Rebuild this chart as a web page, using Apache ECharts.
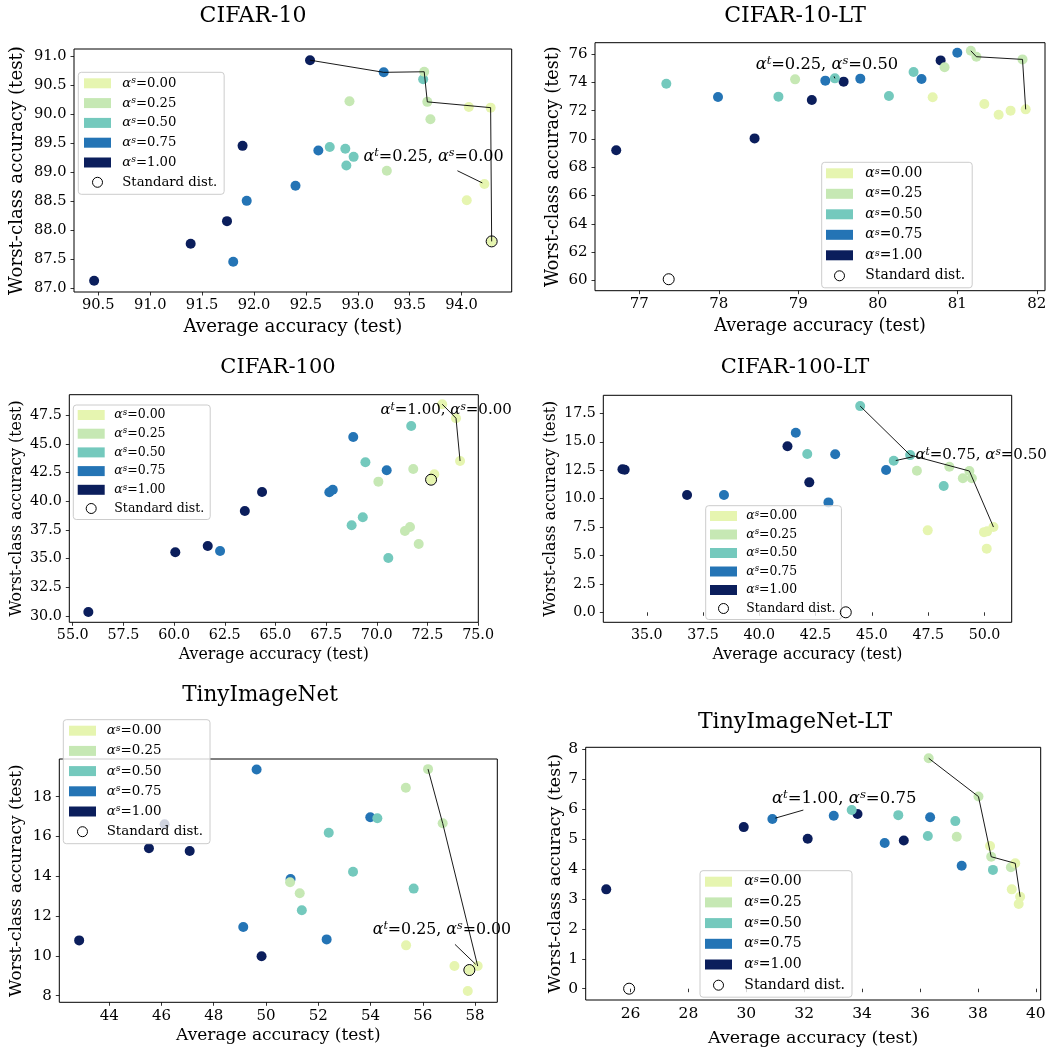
<!DOCTYPE html>
<html>
<head>
<meta charset="utf-8">
<script src="https://cdn.jsdelivr.net/npm/echarts@6/dist/echarts.min.js"></script>
<style>
  html, body { margin: 0; padding: 0; background: #fff; }
  #chart { width: 1051px; height: 1050px; }
</style>
</head>
<body>
<div id="chart"></div>
<script>
// ---------------------------------------------------------------------------
// Data: average vs worst-class test accuracy, grouped by alpha_s
// (each group lists its runs as [average, worst-class]).
// ---------------------------------------------------------------------------
const alphaS = ['0.00', '0.25', '0.50', '0.75', '1.00'];
const groupColors = ['#e6f5b0', '#c6e8b4', '#74c9bd', '#2474b5', '#0b1e5c'];

const cifar10Points = [
  [[94.07, 90.13], [94.28, 90.12], [94.22, 88.80], [94.05, 88.52], [94.29, 87.81]],
  [[93.64, 90.74], [92.92, 90.23], [93.67, 90.22], [93.70, 89.92], [93.28, 89.03]],
  [[93.63, 90.61], [92.73, 89.44], [92.88, 89.41], [92.96, 89.27], [92.89, 89.12]],
  [[93.25, 90.73], [92.62, 89.38], [92.40, 88.77], [91.93, 88.51], [91.80, 87.46]],
  [[92.54, 90.94], [91.89, 89.46], [91.74, 88.16], [91.39, 87.77], [90.46, 87.13]]
];
const cifar10Standard = [94.29, 87.81];
const cifar10Front = [[92.54, 90.94], [93.25, 90.73], [93.64, 90.74], [93.67, 90.22], [94.28, 90.12], [94.29, 87.81]];
const cifar10Note = ['0.25', '0.00'];
const cifar10XTicks = [90.5, 91.0, 91.5, 92.0, 92.5, 93.0, 93.5, 94.0];
const cifar10YTicks = [87.0, 87.5, 88.0, 88.5, 89.0, 89.5, 90.0, 90.5, 91.0];

const cifar10ltPoints = [
  [[81.86, 72.09], [81.34, 72.47], [81.52, 71.71], [81.67, 72.00], [80.69, 72.94]],
  [[81.17, 76.23], [81.24, 75.81], [81.82, 75.62], [78.96, 74.21], [80.84, 75.06]],
  [[77.34, 73.90], [78.75, 72.99], [79.46, 74.28], [80.14, 73.03], [80.45, 74.73]],
  [[81.00, 76.09], [80.55, 74.23], [79.78, 74.26], [79.34, 74.12], [77.99, 72.96]],
  [[80.79, 75.55], [79.57, 74.05], [79.17, 72.75], [78.45, 70.04], [76.71, 69.20]]
];
const cifar10ltStandard = [77.37, 60.09];
const cifar10ltFront = [[81.17, 76.23], [81.24, 75.81], [81.82, 75.62], [81.86, 72.09]];
const cifar10ltNote = ['0.25', '0.50'];
const cifar10ltXTicks = [77, 78, 79, 80, 81, 82];
const cifar10ltYTicks = [60, 62, 64, 66, 68, 70, 72, 74, 76];

const cifar100Points = [
  [[73.23, 48.46], [73.91, 47.24], [74.11, 43.51], [72.84, 42.35], [72.68, 41.88]],
  [[71.80, 42.82], [70.08, 41.71], [71.64, 37.76], [71.39, 37.41], [72.07, 36.28]],
  [[71.70, 46.56], [69.44, 43.40], [69.31, 38.60], [68.76, 37.91], [70.57, 35.06]],
  [[68.84, 45.61], [70.49, 42.70], [67.83, 41.01], [67.66, 40.78], [62.27, 35.67]],
  [[64.34, 40.81], [63.49, 39.15], [61.66, 36.10], [60.06, 35.55], [55.77, 30.35]]
];
const cifar100Standard = [72.68, 41.88];
const cifar100Front = [[73.23, 48.46], [73.91, 47.24], [74.11, 43.51]];
const cifar100Note = ['1.00', '0.00'];
const cifar100XTicks = [55.0, 57.5, 60.0, 62.5, 65.0, 67.5, 70.0, 72.5, 75.0];
const cifar100YTicks = [30.0, 32.5, 35.0, 37.5, 40.0, 42.5, 45.0, 47.5];

const cifar100ltPoints = [
  [[50.40, 7.50], [49.98, 7.05], [50.12, 7.12], [47.48, 7.21], [50.10, 5.60]],
  [[47.00, 12.46], [48.44, 12.81], [49.33, 12.43], [49.04, 11.79], [49.44, 11.79]],
  [[44.48, 18.14], [46.70, 13.83], [45.97, 13.33], [42.13, 13.92], [48.19, 11.11]],
  [[41.62, 15.80], [43.37, 13.90], [45.63, 12.52], [38.43, 10.32], [43.07, 9.67]],
  [[41.25, 14.60], [33.92, 12.58], [34.02, 12.54], [36.79, 10.32], [42.22, 11.43]]
];
const cifar100ltStandard = [43.84, 0.0];
const cifar100ltFront = [[44.48, 18.14], [46.70, 13.83], [49.33, 12.43], [50.40, 7.50]];
const cifar100ltNote = ['0.75', '0.50'];
const cifar100ltXTicks = [35.0, 37.5, 40.0, 42.5, 45.0, 47.5, 50.0];
const cifar100ltYTicks = [0.0, 2.5, 5.0, 7.5, 10.0, 12.5, 15.0, 17.5];

const tinyPoints = [
  [[55.36, 10.53], [57.21, 9.49], [58.10, 9.49], [57.72, 8.24], [57.78, 9.29]],
  [[56.20, 19.38], [55.35, 18.45], [56.76, 16.66], [50.92, 13.70], [51.29, 13.15]],
  [[54.26, 16.91], [52.40, 16.19], [53.33, 14.23], [55.65, 13.38], [51.37, 12.29]],
  [[49.64, 19.36], [53.99, 16.96], [50.94, 13.86], [49.13, 11.45], [52.32, 10.83]],
  [[45.52, 15.41], [47.08, 15.27], [49.83, 9.98], [42.85, 10.78], [46.12, 16.61]]
];
const tinyStandard = [57.78, 9.29];
const tinyFront = [[56.20, 19.38], [56.76, 16.66], [58.10, 9.49]];
const tinyNote = ['0.25', '0.00'];
const tinyXTicks = [44, 46, 48, 50, 52, 54, 56, 58];
const tinyYTicks = [8, 10, 12, 14, 16, 18];

const tinyltPoints = [
  [[38.42, 4.77], [39.29, 4.19], [39.17, 3.32], [39.46, 3.07], [39.41, 2.83]],
  [[36.30, 7.70], [38.02, 6.42], [38.46, 4.41], [39.14, 4.06], [37.27, 5.08]],
  [[33.64, 5.97], [35.25, 5.80], [37.22, 5.60], [36.27, 5.10], [38.52, 3.97]],
  [[30.90, 5.67], [33.02, 5.78], [36.35, 5.73], [34.78, 4.87], [37.44, 4.11]],
  [[29.91, 5.40], [33.84, 5.84], [32.12, 5.01], [35.44, 4.95], [25.16, 3.32]]
];
const tinyltStandard = [25.95, 0.0];
const tinyltFront = [[36.30, 7.70], [38.02, 6.42], [38.46, 4.41], [39.29, 4.19], [39.46, 3.07]];
const tinyltNote = ['1.00', '0.75'];
const tinyltXTicks = [26, 28, 30, 32, 34, 36, 38, 40];
const tinyltYTicks = [0, 1, 2, 3, 4, 5, 6, 7, 8];

// ---------------------------------------------------------------------------
// Panel layout (pixel boxes, axis limits, fonts, legend and note placement)
// ---------------------------------------------------------------------------
const SERIF = '"DejaVu Serif", "Liberation Serif", serif';
const STANDARD = 'Standard dist.';

const panels = [
  {
    title: 'CIFAR-10', titlePos: [253, 16], titleSize: 22,
    grid: { left: 74, top: 49, width: 437.7, height: 243 },
    xLim: [90.266, 94.483], yLim: [86.936, 91.133], xDec: 1, yDec: 1,
    xTicks: cifar10XTicks, yTicks: cifar10YTicks,
    points: cifar10Points, standard: cifar10Standard, front: cifar10Front, note: cifar10Note,
    tick: 14.6, nameSize: 18.2, xGap: 26, yGap: 48,
    legend: { left: 78.3, top: 72.3, font: 13.2, gap: 5.8, pad: [4, 7, 5, 5.7], sp: 6.3 },
    noteAt: [93.73, 89.27], noteSize: 16, leader: [[93.96, 89.03], [94.20, 88.82]]
  },
  {
    title: 'CIFAR-10-LT', titlePos: [795, 16], titleSize: 22,
    grid: { left: 595, top: 42.7, width: 450, height: 248 },
    xLim: [76.443, 82.103], yLim: [59.28, 76.80], xDec: 0, yDec: 0,
    xTicks: cifar10ltXTicks, yTicks: cifar10ltYTicks,
    points: cifar10ltPoints, standard: cifar10ltStandard, front: cifar10ltFront, note: cifar10ltNote,
    tick: 15, nameSize: 17.6, xGap: 27, yGap: 33,
    legend: { left: 821.7, top: 162.3, font: 13.9, gap: 6.5, pad: [4, 7, 5, 4.3], sp: 7.3 },
    noteAt: [79.36, 75.22], noteSize: 16.3, leader: [[79.45, 74.42], [79.46, 74.28]]
  },
  {
    title: 'CIFAR-100', titlePos: [278, 368], titleSize: 21,
    grid: { left: 69.3, top: 394.7, width: 409, height: 227.6 },
    xLim: [54.83, 75.01], yLim: [29.45, 49.29], xDec: 1, yDec: 1,
    xTicks: cifar100XTicks, yTicks: cifar100YTicks,
    points: cifar100Points, standard: cifar100Standard, front: cifar100Front, note: cifar100Note,
    tick: 14.3, nameSize: 15.8, xGap: 25, yGap: 44.7,
    legend: { left: 73.3, top: 405, font: 12.5, gap: 4.7, pad: [3, 6, 4, 4.4], sp: 4.6 },
    noteAt: [73.42, 47.96], noteSize: 15, leader: []
  },
  {
    title: 'CIFAR-100-LT', titlePos: [795, 368], titleSize: 21,
    grid: { left: 603.3, top: 395.3, width: 408.4, height: 227 },
    xLim: [33.07, 51.21], yLim: [-0.88, 19.09], xDec: 1, yDec: 1,
    xTicks: cifar100ltXTicks, yTicks: cifar100ltYTicks,
    points: cifar100ltPoints, standard: cifar100ltStandard, front: cifar100ltFront, note: cifar100ltNote,
    tick: 14.2, nameSize: 15.8, xGap: 25, yGap: 44.7,
    legend: { left: 705.7, top: 505.7, font: 12.4, gap: 4.5, pad: [3.3, 6, 4, 4.3], sp: 4.3 },
    noteAt: [49.85, 13.83], noteSize: 15, leader: [[46.84, 13.69], [46.06, 13.35]]
  },
  {
    title: 'TinyImageNet', titlePos: [260, 695], titleSize: 21.5,
    grid: { left: 59.3, top: 759, width: 438, height: 243.3 },
    xLim: [42.09, 58.85], yLim: [7.67, 19.89], xDec: 0, yDec: 0,
    xTicks: tinyXTicks, yTicks: tinyYTicks,
    points: tinyPoints, standard: tinyStandard, front: tinyFront, note: tinyNote,
    tick: 15, nameSize: 17, xGap: 25, yGap: 34,
    legend: { left: 63.3, top: 719.7, font: 13.4, gap: 6.2, pad: [4, 7, 5, 5.7], sp: 5.7 },
    noteAt: [56.73, 11.30], noteSize: 15.8, leader: [[57.23, 10.58], [58.02, 9.58]]
  },
  {
    title: 'TinyImageNet-LT', titlePos: [795, 722], titleSize: 22,
    grid: { left: 585.7, top: 747.3, width: 455, height: 252.7 },
    xLim: [24.45, 40.17], yLim: [-0.378, 8.067], xDec: 0, yDec: 0,
    xTicks: tinyltXTicks, yTicks: tinyltYTicks,
    points: tinyltPoints, standard: tinyltStandard, front: tinyltFront, note: tinyltNote,
    tick: 15.5, nameSize: 17.5, xGap: 29, yGap: 20.2,
    legend: { left: 700, top: 870.7, font: 14, gap: 6.7, pad: [4, 7, 5, 5], sp: 7.3 },
    noteAt: [33.38, 6.36], noteSize: 16.5, leader: [[31.97, 5.97], [31.00, 5.70]]
  }
];

// ---------------------------------------------------------------------------
// Option building
// ---------------------------------------------------------------------------
function mathRich(size, lh, spacer) {
  const base = { fontFamily: SERIF, color: '#000', textBorderWidth: 0, textShadowBlur: 0 };
  return {
    p: Object.assign({}, base, { width: spacer, fontSize: size, lineHeight: lh }),
    a: Object.assign({}, base, { fontStyle: 'italic', fontSize: size, lineHeight: lh }),
    s: Object.assign({}, base, { fontStyle: 'italic', fontSize: size * 0.7,
                                 lineHeight: Math.round(lh * 0.6), verticalAlign: 'top' }),
    t: Object.assign({}, base, { fontSize: size, lineHeight: lh })
  };
}

const grids = [], xAxes = [], yAxes = [], series = [], legends = [], graphics = [];
const groupName = g => 'αs=' + alphaS[g];
const hollowStyle = { color: 'rgba(0,0,0,0)', borderColor: '#000', borderWidth: 1, opacity: 1 };

panels.forEach((p, i) => {
  grids.push(Object.assign({
    show: true, borderColor: '#000', borderWidth: 1, backgroundColor: 'transparent',
    containLabel: false, outerBoundsMode: 'none'
  }, p.grid));

  const axisCommon = (ticks, dec, gap, name) => ({
    gridIndex: i, type: 'value',
    name: name, nameLocation: 'middle', nameGap: gap,
    nameTextStyle: { fontFamily: SERIF, fontSize: p.nameSize, color: '#000' },
    axisLine: { show: false },
    splitLine: { show: false },
    axisTick: { show: true, inside: false, length: 3.5, customValues: ticks,
                lineStyle: { color: '#000', width: 0.8 } },
    axisLabel: { show: true, customValues: ticks, formatter: v => Number(v).toFixed(dec),
                 fontFamily: SERIF, fontSize: p.tick, color: '#000' }
  });

  const xa = axisCommon(p.xTicks, p.xDec, p.xGap, 'Average accuracy (test)');
  xa.min = p.xLim[0]; xa.max = p.xLim[1]; xa.position = 'bottom';
  xa.axisLabel.margin = 6;
  xAxes.push(xa);

  const ya = axisCommon(p.yTicks, p.yDec, p.yGap, 'Worst-class accuracy (test)');
  ya.min = p.yLim[0]; ya.max = p.yLim[1]; ya.position = 'left';
  ya.axisLabel.margin = 7.5;
  yAxes.push(ya);

  // scatter groups, darkest first so the lighter groups sit on top
  for (let g = alphaS.length - 1; g >= 0; g--) {
    series.push({
      type: 'scatter', name: groupName(g), xAxisIndex: i, yAxisIndex: i,
      data: p.points[g], symbol: 'circle', symbolSize: 10,
      itemStyle: { color: groupColors[g], opacity: 1, borderWidth: 0 },
      silent: true, z: 2
    });
  }

  // front connecting the best trade-offs
  series.push({
    type: 'line', xAxisIndex: i, yAxisIndex: i, data: p.front,
    showSymbol: false, symbol: 'none', silent: true, clip: false,
    lineStyle: { color: '#000', width: 0.9 }, z: 3
  });

  // standard distribution reference point
  series.push({
    type: 'scatter', name: STANDARD, xAxisIndex: i, yAxisIndex: i,
    data: [p.standard], symbol: 'circle', symbolSize: 11,
    itemStyle: hollowStyle, silent: true, z: 4
  });

  // annotation leader + text
  if (p.leader.length) {
    series.push({
      type: 'line', xAxisIndex: i, yAxisIndex: i, data: p.leader,
      showSymbol: false, symbol: 'none', silent: true, clip: false,
      lineStyle: { color: '#000', width: 0.9 }, z: 5
    });
  }
  series.push({
    type: 'scatter', xAxisIndex: i, yAxisIndex: i, data: [p.noteAt],
    symbolSize: 0, silent: true, clip: false, z: 6,
    itemStyle: { color: '#000', opacity: 1 },
    label: {
      show: true, position: 'inside', color: '#000', textBorderWidth: 0, opacity: 1,
      formatter: '{a|α}{s|t}{t|=' + p.note[0] + ', }{a|α}{s|s}{t|=' + p.note[1] + '}',
      rich: mathRich(p.noteSize, Math.round(p.noteSize * 1.15), 0)
    }
  });

  // legend
  const L = p.legend;
  const lh = 14;
  legends.push({
    orient: 'vertical', left: L.left, top: L.top, padding: L.pad,
    itemWidth: 27, itemHeight: 10, itemGap: L.gap,
    backgroundColor: 'rgba(255,255,255,0.8)', borderColor: '#cccccc', borderWidth: 1, borderRadius: 3,
    selectedMode: false,
    data: alphaS.map((a, g) => ({ name: groupName(g), icon: 'rect' })).concat([{
      name: STANDARD, icon: 'circle', itemStyle: hollowStyle
    }]),
    formatter: name => name === STANDARD
      ? '{p| }{t|' + STANDARD + '}'
      : '{p| }{a|α}{s|s}{t|=' + name.slice(3) + '}',
    textStyle: { fontFamily: SERIF, fontSize: L.font, color: '#000', lineHeight: lh,
                 rich: mathRich(L.font, lh, L.sp) }
  });

  graphics.push({
    type: 'text', x: p.titlePos[0], y: p.titlePos[1], silent: true,
    style: { text: p.title, fontFamily: SERIF, fontSize: p.titleSize, fill: '#000',
             align: 'center', verticalAlign: 'middle' }
  });
});

const chart = echarts.init(document.getElementById('chart'), null, { renderer: 'canvas' });
chart.setOption({
  animation: false,
  backgroundColor: '#fff',
  textStyle: { fontFamily: SERIF },
  grid: grids,
  xAxis: xAxes,
  yAxis: yAxes,
  legend: legends,
  series: series,
  graphic: graphics,
  tooltip: { show: false }
});
</script>
</body>
</html>
